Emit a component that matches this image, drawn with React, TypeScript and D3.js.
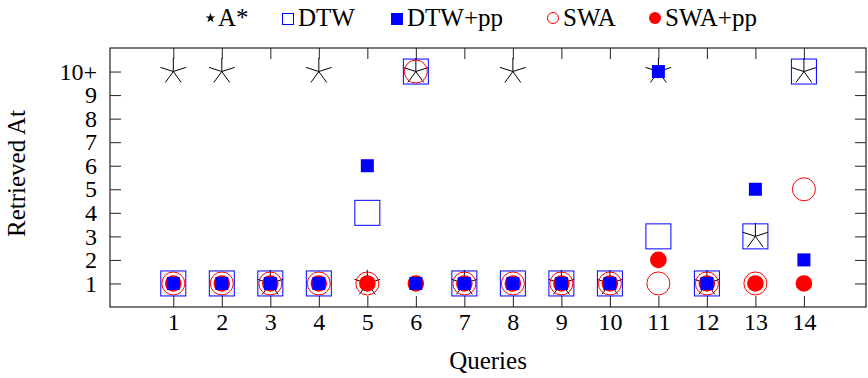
import React, { useEffect, useRef } from 'react';
import * as d3 from 'd3';

// chart data
const queries = [1, 2, 3, 4, 5, 6, 7, 8, 9, 10, 11, 12, 13, 14];
const aStar = [10, 10, 1, 10, 1, 10, 1, 10, 1, 1, 10, 1, 3, 10];
const dtw = [1, 1, 1, 1, 4, 10, 1, 1, 1, 1, 3, 1, 3, 10];
const dtwPP = [1, 1, 1, 1, 6, 1, 1, 1, 1, 1, 10, 1, 5, 2];
const swa = [1, 1, 1, 1, 1, 10, 1, 1, 1, 1, 1, 1, 1, 5];
const swaPP = [1, 1, 1, 1, 1, 1, 1, 1, 1, 1, 2, 1, 1, 1];
const yTicks = [1, 2, 3, 4, 5, 6, 7, 8, 9, 10];
const yTickLabels = ['1', '2', '3', '4', '5', '6', '7', '8', '9', '10+'];
const legendLabels = ['A*', 'DTW', 'DTW+pp', 'SWA', 'SWA+pp'];

const FONT = '"Liberation Serif", "Times New Roman", serif';

// 5-armed asterisk like the pgfplots star mark
const starPath = (r: number) => {
    let p = '';
    for (let k = 0; k < 5; k++) {
        const a = -Math.PI / 2 + (k * 2 * Math.PI) / 5;
        p += `M0,0L${(r * Math.cos(a)).toFixed(2)},${(r * Math.sin(a)).toFixed(2)}`;
    }
    return p;
};

const App = () => {
    const svgRef = useRef<SVGSVGElement>(null);

    useEffect(() => {
        const svg = d3.select(svgRef.current);
        svg.selectAll('*').remove();

        const left = 110, right = 866, top = 48, bottom = 307;
        const tick = 11;

        const x = d3.scaleLinear().domain([-0.305, 15.28]).range([left, right]);
        const y = d3.scaleLinear().domain([0, 11]).range([bottom, top]);

        const g = svg.append('g');

        // ticks (inside, on all four sides)
        g.append('g')
            .attr('transform', `translate(0,${bottom})`)
            .call(d3.axisBottom(x).tickValues(queries).tickSize(-tick).tickPadding(6).tickFormat(d3.format('d')))
            .call(a => a.select('.domain').remove());
        g.append('g')
            .attr('transform', `translate(0,${top})`)
            .call(d3.axisTop(x).tickValues(queries).tickSize(-tick).tickFormat(() => ''))
            .call(a => a.select('.domain').remove());
        g.append('g')
            .attr('class', 'yaxis')
            .attr('transform', `translate(${left},0)`)
            .call(d3.axisLeft(y).tickValues(yTicks).tickSize(-tick).tickPadding(13)
                .tickFormat((d, i) => yTickLabels[i]))
            .call(a => a.select('.domain').remove());
        g.append('g')
            .attr('transform', `translate(${right},0)`)
            .call(d3.axisRight(y).tickValues(yTicks).tickSize(-tick).tickFormat(() => ''))
            .call(a => a.select('.domain').remove());

        g.selectAll('.tick line').attr('stroke', '#222').attr('stroke-width', 1);
        g.selectAll('.tick text')
            .attr('fill', '#000')
            .style('font-family', FONT)
            .style('font-size', '24px');

        // frame
        g.append('rect')
            .attr('x', left).attr('y', top)
            .attr('width', right - left).attr('height', bottom - top)
            .attr('fill', 'none').attr('stroke', '#222').attr('stroke-width', 1.2);

        const marks = g.append('g');

        // A*
        marks.selectAll('.star')
            .data(queries)
            .enter().append('path')
            .attr('transform', (d, i) => `translate(${x(d)},${y(aStar[i])})`)
            .attr('d', starPath(13.5))
            .attr('stroke', '#000').attr('stroke-width', 1).attr('fill', 'none');

        // SWA
        marks.selectAll('.swa')
            .data(queries)
            .enter().append('circle')
            .attr('cx', d => x(d)).attr('cy', (d, i) => y(swa[i]))
            .attr('r', 11.5)
            .attr('fill', 'none').attr('stroke', 'red').attr('stroke-width', 1);

        // SWA+pp
        marks.selectAll('.swapp')
            .data(queries)
            .enter().append('circle')
            .attr('cx', d => x(d)).attr('cy', (d, i) => y(swaPP[i]))
            .attr('r', 8.3)
            .attr('fill', 'red');

        // DTW
        marks.selectAll('.dtw')
            .data(queries)
            .enter().append('rect')
            .attr('x', d => x(d) - 12.5).attr('y', (d, i) => y(dtw[i]) - 12.5)
            .attr('width', 25).attr('height', 25)
            .attr('fill', 'none').attr('stroke', 'blue').attr('stroke-width', 1);

        // DTW+pp
        marks.selectAll('.dtwpp')
            .data(queries)
            .enter().append('rect')
            .attr('x', d => x(d) - 6.5).attr('y', (d, i) => y(dtwPP[i]) - 6.5)
            .attr('width', 13).attr('height', 13)
            .attr('fill', 'blue');

        // axis titles
        svg.append('text')
            .attr('x', (left + right) / 2).attr('y', 369)
            .attr('text-anchor', 'middle')
            .style('font-family', FONT).style('font-size', '25px')
            .text('Queries');

        svg.append('text')
            .attr('transform', `translate(25,${(top + bottom) / 2 - 4}) rotate(-90)`)
            .attr('text-anchor', 'middle')
            .style('font-family', FONT).style('font-size', '25px')
            .text('Retrieved At');

        // legend
        const legendX = [205, 282, 391, 547, 649];
        const legend = svg.append('g')
            .selectAll('g')
            .data(legendLabels)
            .enter().append('g')
            .attr('transform', (d, i) => `translate(${legendX[i]},0)`);

        legend.each(function (d, i) {
            const el = d3.select(this);
            if (i === 0) {
                el.append('path')
                    .attr('transform', 'translate(5.5,18)')
                    .attr('d', d3.symbol(d3.symbolStar, 30)())
                    .attr('fill', '#000');
            } else if (i === 1) {
                el.append('rect').attr('x', 0.5).attr('y', 13.5).attr('width', 11).attr('height', 11)
                    .attr('fill', 'none').attr('stroke', 'blue');
            } else if (i === 2) {
                el.append('rect').attr('x', 0).attr('y', 13).attr('width', 12).attr('height', 12)
                    .attr('fill', 'blue');
            } else if (i === 3) {
                el.append('circle').attr('cx', 6).attr('cy', 18).attr('r', 5.5)
                    .attr('fill', 'none').attr('stroke', 'red');
            } else {
                el.append('circle').attr('cx', 6).attr('cy', 18).attr('r', 6)
                    .attr('fill', 'red');
            }
            el.append('text')
                .attr('x', i === 0 ? 13 : 16).attr('y', 26)
                .style('font-family', FONT).style('font-size', '25px')
                .text(d);
        });
    }, []);

    return (
        <svg ref={svgRef} width={868} height={378}
            style={{ position: 'absolute', left: 0, top: 0, background: '#fff' }} />
    );
};

export default App;
